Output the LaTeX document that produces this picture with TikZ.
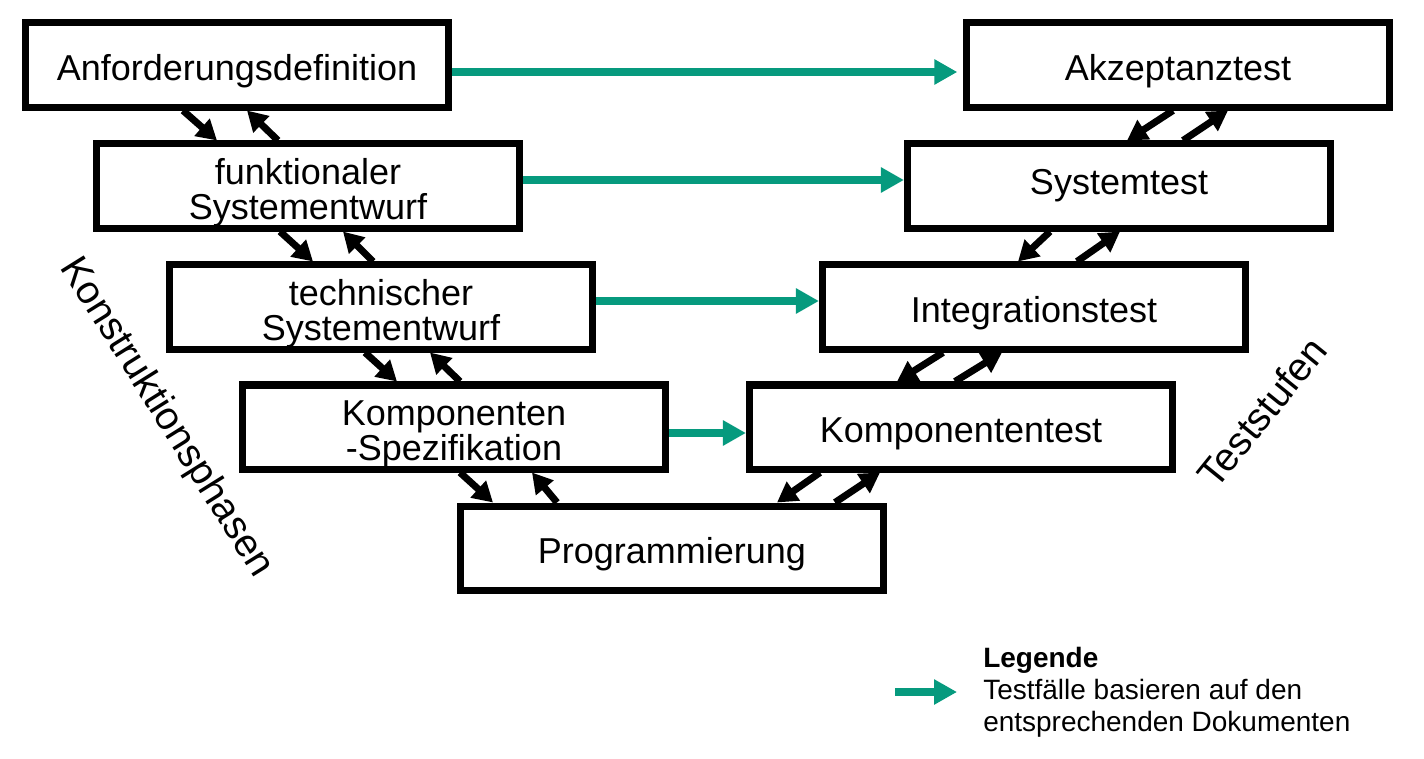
\documentclass[tikz,border=0pt]{standalone}
\usepackage{fontspec}
\setmainfont{Liberation Sans}
\usepackage{xcolor}
\usetikzlibrary{arrows.meta, positioning, calc}
\definecolor{vgreen}{HTML}{069A7E}

\begin{document}
\begin{tikzpicture}[x=0.025cm, y=-0.025cm,
    box/.style={rectangle, draw, line width=0.175cm, minimum width=10.575cm,
      minimum height=2.1cm, inner sep=0pt, align=center,
      font=\fontsize{25.6}{24.2}\selectfont},
    low/.style={text height=0.75cm, text depth=0pt},
    twoline/.style={text height=1.65cm, text depth=0pt},
    side/.style={inner sep=0pt, font=\fontsize{28}{28}\selectfont},
    legtext/.style={inner sep=0pt, align=left, font=\fontsize{19.9}{22.8}\selectfont},
    arrow/.style={line width=0.175cm, -{Triangle[length=0.5cm, width=0.55cm]}},
    garrow/.style={vgreen, line width=0.2cm, -{Triangle[length=0.575cm, width=0.6cm]}}
]
\useasboundingbox (0,0) rectangle (1424,758);
\node[box, low]     (anf)   at (237,65)   {Anforderungsdefinition};
\node[box, low]     (akz)   at (1178,65)  {Akzeptanztest};
\node[box, twoline] (funk)  at (308,186)  {funktionaler\\Systementwurf};
\node[box]          (sys)   at (1119,186) {Systemtest};
\node[box, twoline] (tech)  at (381,307)  {technischer\\Systementwurf};
\node[box, low]     (integ) at (1034,307) {Integrationstest};
\node[box, twoline] (spez)  at (454,427)  {Komponenten\\-Spezifikation};
\node[box, low]     (ktest) at (961,427)  {Komponententest};
\node[box, low]     (prog)  at (672,548)  {Programmierung};
% left side
\draw[arrow] ($(anf.south)+(-54,0)$) -- ($(funk.north)+(-91,0)$);
\draw[arrow] ($(funk.north)+(-30,0)$) -- ($(anf.south)+(10,0)$);
\draw[arrow] ($(funk.south)+(-28,0)$) -- ($(tech.north)+(-68,0)$);
\draw[arrow] ($(tech.north)+(-8,0)$) -- ($(funk.south)+(35,0)$);
\draw[arrow] ($(tech.south)+(-16,0)$) -- ($(spez.north)+(-57,0)$);
\draw[arrow] ($(spez.north)+(6,0)$) -- ($(tech.south)+(49,0)$);
\draw[arrow] ($(spez.south)+(6,0)$) -- ($(prog.north)+(-179,0)$);
\draw[arrow] ($(prog.north)+(-115,0)$) -- ($(spez.south)+(78,0)$);
% right side
\draw[arrow] ($(akz.south)+(-5,0)$) -- ($(sys.north)+(8,0)$);
\draw[arrow] ($(sys.north)+(64,0)$) -- ($(akz.south)+(50,0)$);
\draw[arrow] ($(sys.south)+(-69,0)$) -- ($(integ.north)+(-16,0)$);
\draw[arrow] ($(integ.north)+(43,0)$) -- ($(sys.south)+(1,0)$);
\draw[arrow] ($(integ.south)+(-91,0)$) -- ($(ktest.north)+(-64,0)$);
\draw[arrow] ($(ktest.north)+(-6,0)$) -- ($(integ.south)+(-32,0)$);
\draw[arrow] ($(ktest.south)+(-141,0)$) -- ($(prog.north)+(105,0)$);
\draw[arrow] ($(prog.north)+(163,0)$) -- ($(ktest.south)+(-81,0)$);
% test cases
\draw[garrow, shorten >=4] ($(anf.east)+(0,7)$) -- ($(akz.west)+(0,7)$);
\draw[garrow] ($(funk.east)+(0,-6)$) -- ($(sys.west)+(0,-6)$);
\draw[garrow] ($(tech.east)+(0,-6)$) -- ($(integ.west)+(0,-6)$);
\draw[garrow] ($(spez.east)+(0,6)$) -- ($(ktest.west)+(0,6)$);
\node[side, rotate=-58] (konst)  at (166,418)  {Konstruktionsphasen};
\node[side, rotate=51]  (stufen) at (1262,412) {Teststufen};
% legend
\node[legtext, anchor=west] (leg) at (983,692)
  {\textbf{Legende}\\Testfälle basieren auf den\\entsprechenden Dokumenten};
\coordinate (legA) at (895,692);
\draw[garrow] (legA) -- ($(leg.west)+(-26,0)$);
\end{tikzpicture}
\end{document}
